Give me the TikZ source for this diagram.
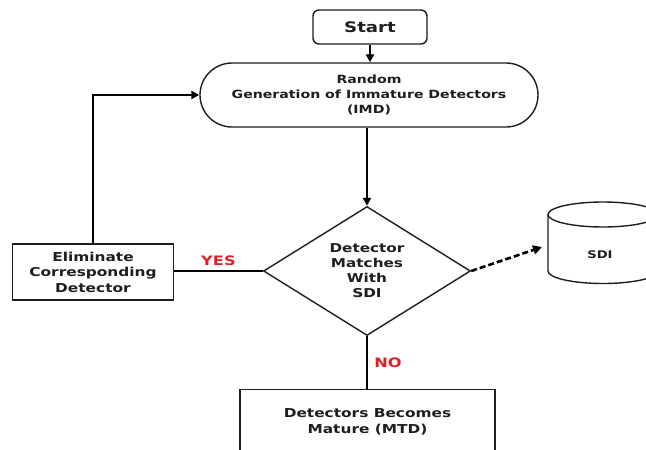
\documentclass[tikz,border=0pt]{standalone}
\usepackage{fontspec}
\setmainfont{DejaVu Sans}[FakeStretch=1.25]
\usetikzlibrary{shapes.geometric,arrows.meta}

\definecolor{labelred}{RGB}{222,32,40}
\definecolor{inkgray}{RGB}{30,30,30}

\tikzset{
  box/.style={draw=inkgray, line width=1.4pt, fill=white, align=center,
    font=\bfseries\fontsize{12.3}{15.5}\selectfont, text=inkgray, inner sep=0pt},
  startbox/.style={box, rounded corners=6pt, minimum width=114pt, minimum height=34pt,
    font=\bfseries\fontsize{14.5}{17}\selectfont},
  imdbox/.style={box, rounded corners=32pt, minimum width=338pt, minimum height=64pt,
    font=\bfseries\fontsize{11.3}{15}\selectfont},
  decision/.style={box, diamond, minimum width=207pt, minimum height=128pt,
    font=\bfseries\fontsize{12.2}{15}\selectfont},
  flow/.style={line width=2pt, -{Triangle[length=8pt,width=8pt]}},
  answer/.style={text=labelred, font=\bfseries\fontsize{13}{15}\selectfont}
}

\begin{document}
\begin{tikzpicture}[x=1pt, y=-1pt]

 \useasboundingbox (0,0) rectangle (646,450);
 \clip (0,0) rectangle (646,450);

 \node[startbox] (start) at (370,27) {Start};
 \node[imdbox] (imd) at (369,95) {Random\\Generation of Immature Detectors\\(IMD)};
 \node[decision] (match) at (367,271) {Detector\\Matches\\With\\SDI};
 \node[box, minimum width=161pt, minimum height=56pt] (elim) at (93,272)
   {Eliminate\\Corresponding\\Detector};
 \node[box, minimum width=255pt, minimum height=64pt, anchor=north] (mtd) at (367.5,389)
   {Detectors Becomes\\Mature (MTD)};

% SDI store, cut off at the right edge
 \draw[line width=1.4pt, draw=inkgray] (548,214.5) -- (548,271)
   arc[start angle=180, end angle=360, x radius=55pt, y radius=12.5pt] -- (658,214.5);
 \draw[line width=1.4pt, draw=inkgray, fill=white] (603,214.5) ellipse [x radius=55pt, y radius=12.5pt];
 \node[font=\bfseries\fontsize{10.5}{12}\selectfont, text=inkgray] (sdi) at (600,255) {SDI};
 \coordinate (sdiin) at (542,247);

% Connectors
 \draw[flow] (start.south) -- (start.south |- imd.north);
 \draw[flow] (imd.south -| match.north) -- (match.north);
 \draw[line width=2pt] (match.west) -- node[answer, above=1pt] {YES} (elim.east |- match.west);
 \draw[flow] (elim.north) |- (imd.west);
 \draw[line width=2.6pt, dash pattern=on 6pt off 3pt, -{Triangle[length=9pt,width=9pt]}]
   (match.east) -- (sdiin);
 \draw[line width=2pt] (match.south) -- node[answer, right=3pt] {NO} (match.south |- mtd.north);

\end{tikzpicture}
\end{document}
